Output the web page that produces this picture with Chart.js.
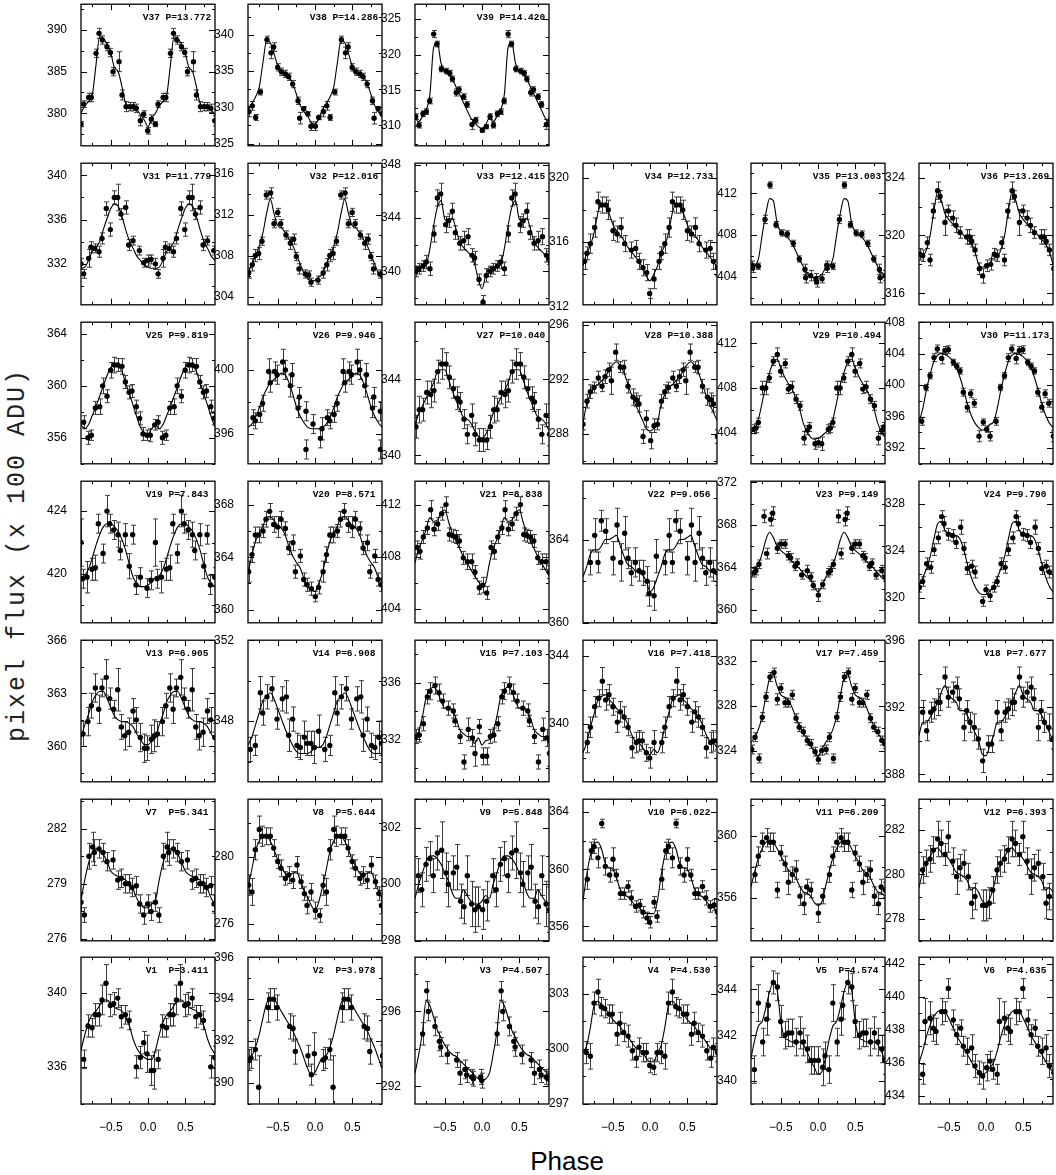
<!DOCTYPE html>
<html>
<head>
<meta charset="utf-8">
<script src="https://cdn.jsdelivr.net/npm/chart.js@4.4.1/dist/chart.umd.min.js"></script>
<style>
  body { margin: 0; background: #fff; }
  #page { position: relative; width: 1056px; height: 1175px; overflow: hidden; background: #fff; }
  #page canvas { position: absolute; }
  #ytitle { position: absolute; left: 17px; top: 555px; transform: translate(-50%, -50%) rotate(-90deg);
            font: 25px "Liberation Mono"; letter-spacing: 2px; white-space: nowrap; color: #222; }
  #xtitle { position: absolute; left: 567px; top: 1148px; transform: translateX(-50%);
            font: 26px "Liberation Sans"; line-height: 26px; color: #000; }
</style>
</head>
<body>
<div id="page">
  <div id="ytitle">pixel flux (x 100 ADU)</div>
  <div id="xtitle">Phase</div>
</div>
<script>
// one panel per variable, V1 ... V39
const names = ['V1','V2','V3','V4','V5','V6','V7','V8','V9','V10','V11','V12','V13','V14','V15','V16','V17','V18','V19','V20',
  'V21','V22','V23','V24','V25','V26','V27','V28','V29','V30','V31','V32','V33','V34','V35','V36','V37','V38','V39'];
const periods = ['3.411','3.978','4.507','4.530','4.574','4.635','5.341','5.644','5.848','6.022','6.209','6.393','6.905','6.908',
  '7.103','7.418','7.459','7.677','7.843','8.571','8.838','9.056','9.149','9.790','9.819','9.946','10.040','10.388','10.494',
  '11.173','11.779','12.016','12.415','12.733','13.003','13.269','13.772','14.286','14.420'];

// y axis limits and label step
const yMin = [334.0,389.0,291.05,297.0,339.0,433.5,275.9,275.0,298.0,355.0,353.2,277.0,358.0,345.0,329.0,336.6,321.2,387.55,416.9,359.0,
  402.9,360.0,358.8,317.9,354.0,394.1,339.55,285.8,401.2,390.0,328.3,303.2,337.5,312.1,401.3,315.2,376.1,324.7,307.2];
const yMax = [341.9,396.0,298.9,305.0,345.4,442.4,283.6,283.4,303.0,364.9,362.4,283.4,366.0,352.0,339.0,344.9,333.9,396.0,425.9,369.8,
  413.8,366.8,372.1,329.9,364.9,403.0,347.0,296.2,413.9,408.0,341.1,317.0,348.1,320.9,414.9,325.0,393.1,344.2,327.1];
const yStep = [4,2,4,3,2,2,3,4,2,4,4,2,3,4,4,4,4,4,4,4,4,4,4,4,4,4,4,4,4,4,4,4,4,4,4,4,5,5,5];

// phase ticks
const xLabels = [-0.5, 0, 0.5];
const xMinor = [-0.75, -0.25, 0.25, 0.75];

// fitted curve, sampled over one cycle
const curvePhase = [-0.9,-0.85,-0.8,-0.75,-0.7,-0.65,-0.6,-0.55,-0.5,-0.45,-0.4,-0.35,-0.3,-0.25,-0.2,-0.15,-0.1,-0.05,0.0,0.05];
const curves = [
  [336.9,337.7,338.4,338.8,339.0,339.3,339.6,339.6,339.4,339.2,339.1,339.0,338.7,338.2,337.5,337.0,336.7,336.5,336.4,336.4],
  [391.2,391.3,391.7,392.3,393.1,393.8,394.0,394.0,393.7,393.4,393.1,392.8,392.5,392.1,391.7,391.2,390.7,390.4,390.5,390.9],
  [292.7,293.7,294.9,296.6,296.3,295.7,295.0,294.6,294.2,293.9,293.7,293.6,293.4,293.2,293.0,292.8,292.6,292.4,292.3,292.4],
  [299.8,300.2,301.2,302.4,302.6,302.4,302.2,301.9,301.6,301.4,301.2,300.9,300.7,300.4,300.1,300.0,299.8,299.5,299.3,299.3],
  [341.0,341.8,342.4,342.6,343.2,343.9,344.3,344.0,342.6,341.9,341.8,341.7,341.7,341.7,341.6,341.3,340.9,340.6,340.3,340.4],
  [436.0,436.7,437.6,438.3,438.8,439.1,439.2,439.1,438.7,438.2,437.7,437.3,436.9,436.5,436.1,435.7,435.5,435.3,435.4,435.7],
  [278.1,279.2,280.1,280.7,280.9,280.8,280.6,280.2,279.7,279.5,279.4,279.3,279.2,279.0,278.7,278.2,277.9,277.7,277.7,277.9],
  [278.2,279.2,280.3,280.9,281.2,281.2,280.9,280.4,279.8,279.4,279.0,278.9,279.0,279.1,278.6,278.0,277.6,277.1,276.8,277.3],
  [299.5,300.0,300.4,300.8,301.0,301.0,300.9,300.7,300.4,300.1,299.7,299.5,299.5,299.8,299.6,299.4,299.3,299.3,299.4,299.6],
  [357.8,359.6,361.0,361.8,361.9,361.4,360.4,360.1,360.0,359.4,358.6,358.2,358.1,357.8,357.5,357.3,357.1,356.9,356.9,356.9],
  [356.7,357.7,358.6,359.2,359.6,359.7,359.6,359.2,358.7,358.3,357.8,357.6,357.3,356.8,356.4,356.3,356.1,355.7,355.5,355.7],
  [279.4,280.1,280.5,280.8,281.1,281.2,281.0,280.9,280.7,280.4,280.1,280.0,279.9,279.7,279.3,279.4,279.2,278.8,278.7,278.9],
  [360.5,361.2,361.8,362.5,362.9,363.1,363.1,362.7,362.2,361.7,361.5,361.4,361.4,361.3,361.1,360.7,360.4,360.1,360.1,360.3],
  [346.8,347.2,347.8,348.4,349.0,349.2,349.4,349.1,348.6,348.1,347.6,347.2,346.8,346.5,346.4,346.4,346.4,346.5,346.7,346.7],
  [332.0,332.6,333.6,335.0,335.5,335.7,335.4,334.7,334.2,334.2,334.1,333.5,332.7,332.4,332.2,332.2,331.7,332.1,331.6,331.9],
  [338.3,338.9,339.8,340.6,341.4,341.6,341.7,341.4,341.2,340.9,340.7,340.4,340.0,339.4,339.0,338.9,338.6,338.3,338.2,338.5],
  [324.7,325.2,325.9,327.1,328.9,330.5,330.8,329.8,329.0,328.8,328.5,327.9,327.0,326.2,325.6,325.1,324.5,323.9,323.5,324.1],
  [390.3,391.1,391.1,391.4,391.8,392.3,392.9,393.3,392.7,392.5,392.3,391.8,391.8,391.5,391.0,390.5,390.0,389.2,389.1,389.7],
  [419.8,419.9,420.3,421.0,421.8,422.5,423.0,423.2,423.2,423.0,422.7,422.2,421.5,420.6,419.8,419.4,419.2,419.2,419.3,419.5],
  [362.8,364.1,365.2,365.8,366.4,367.0,367.1,366.8,366.4,366.2,365.7,364.8,364.1,363.6,363.2,362.4,361.8,361.5,361.4,362.0],
  [407.5,408.6,409.3,410.1,411.0,410.7,410.8,411.3,411.6,410.7,409.8,409.2,408.6,408.0,407.5,407.0,406.5,406.1,405.7,406.0],
  [362.2,362.7,363.3,363.5,363.5,363.7,364.0,364.0,364.1,364.2,363.7,363.2,362.8,362.7,362.5,362.4,362.3,362.0,361.5,361.7],
  [363.0,363.6,364.3,365.3,366.6,367.3,366.8,366.0,365.6,365.3,365.0,364.6,364.2,363.9,363.5,363.1,362.8,362.2,361.7,362.2],
  [321.0,321.7,322.5,323.5,325.0,326.3,326.5,325.7,325.4,325.3,325.3,325.0,324.1,322.9,321.8,321.0,320.5,320.3,320.3,320.6],
  [357.0,356.7,357.0,357.7,358.4,359.2,360.0,360.8,361.4,361.6,361.5,361.1,360.2,359.4,358.5,357.6,356.8,356.4,356.3,356.7],
  [396.4,396.6,397.0,397.6,398.3,398.8,399.2,399.4,399.6,399.8,399.7,399.2,398.5,397.7,397.1,396.7,396.4,396.3,396.3,396.3],
  [341.6,342.2,342.6,343.0,343.4,343.8,344.4,344.5,344.5,344.0,343.4,342.9,342.4,342.0,341.9,341.7,341.3,341.0,340.9,341.1],
  [288.8,290.2,290.9,291.4,291.6,291.9,292.2,292.7,293.1,293.3,293.0,292.5,291.7,290.9,290.2,289.6,289.0,288.4,288.2,288.4],
  [404.0,404.3,405.2,406.7,408.3,409.4,410.3,410.6,409.8,409.0,408.4,407.9,407.1,406.2,404.9,404.1,403.6,403.4,403.5,403.7],
  [395.3,397.0,399.4,401.4,403.0,403.8,404.0,403.9,403.6,403.1,402.3,401.0,399.4,397.6,396.2,395.2,394.6,394.3,394.4,395.0],
  [331.6,331.7,332.3,333.1,333.5,334.0,335.1,336.1,337.0,337.4,337.2,336.3,335.1,334.1,333.4,332.7,332.3,331.9,331.7,331.6],
  [306.2,307.2,307.9,308.9,310.2,312.1,313.5,312.1,310.9,310.7,310.2,309.6,309.0,308.1,307.2,306.3,305.8,305.5,305.6,305.9],
  [340.3,340.3,340.3,340.5,341.7,343.4,344.8,345.3,343.9,343.7,344.0,343.2,342.2,341.8,341.5,341.2,340.6,339.4,338.7,339.7],
  [314.5,315.3,315.8,316.6,317.8,318.4,318.4,317.8,317.1,316.7,316.4,316.1,315.7,315.4,315.1,314.8,314.4,313.9,313.6,314.0],
  [404.8,405.0,405.7,408.0,410.1,411.5,411.3,409.2,408.3,408.0,407.7,407.2,406.5,405.7,405.0,404.4,404.1,403.9,404.0,404.2],
  [318.8,318.6,319.0,320.0,321.7,323.0,322.4,321.5,321.1,320.8,320.5,320.3,320.0,319.7,319.4,318.9,318.0,317.8,317.9,318.0],
  [380.0,380.9,381.4,382.1,385.7,389.2,389.0,388.3,387.2,385.5,385.0,383.2,381.2,380.8,380.6,380.4,379.8,379.2,378.4,379.4],
  [329.7,330.5,331.4,332.7,336.1,339.2,338.9,337.4,335.7,335.0,334.6,334.2,333.3,331.8,330.3,329.4,328.8,327.9,327.7,328.4],
  [311.1,310.6,311.3,312.2,314.4,321.0,321.7,318.8,317.7,317.4,316.6,315.5,314.4,313.3,312.2,311.1,310.5,309.9,309.6,310.2]
];

// measured points over one cycle: [phase, flux, error]
const points = [
  [[-0.864,336.4,0.5],[-0.806,338.2,0.6],[-0.752,338.1,0.5],[-0.707,338.8,0.6],[-0.663,338.8,0.6],[-0.618,339.6,0.8],[-0.564,340.5,1.0],[-0.506,339.3,0.6],[-0.461,339.4,0.6],[-0.407,339.7,0.5],[-0.358,338.7,0.6],[-0.304,338.8,0.5],[-0.255,338.5,0.5],[-0.157,336.0,0.6],[-0.103,336.5,0.6],[-0.058,337.3,0.6],[-0.013,336.7,1.0],[0.045,335.8,0.8],[0.076,335.8,1.0]],
  [[-0.891,391.1,0.5],[-0.860,391.2,0.5],[-0.801,391.6,0.5],[-0.757,389.8,1.5],[-0.631,393.6,0.7],[-0.609,394.0,0.5],[-0.555,394.0,0.5],[-0.510,393.6,0.6],[-0.340,392.7,0.6],[-0.295,392.6,0.6],[-0.264,391.5,0.6],[-0.094,391.3,0.5],[-0.049,390.4,0.5],[-0.009,391.4,1.0]],
  [[-0.797,294.8,0.6],[-0.743,297.1,0.5],[-0.721,296.0,0.5],[-0.631,295.2,0.5],[-0.573,294.4,0.5],[-0.555,294.1,0.5],[-0.466,293.7,0.5],[-0.340,293.4,0.4],[-0.295,292.7,0.6],[-0.228,292.9,0.5],[-0.206,292.6,0.4],[-0.139,292.5,0.4],[-0.116,292.4,0.4],[-0.018,292.5,0.4],[-0.004,292.3,0.4]],
  [[-0.855,299.8,0.6],[-0.801,299.6,0.7],[-0.752,302.5,0.6],[-0.699,303.1,0.7],[-0.654,302.3,0.5],[-0.609,302.2,0.5],[-0.551,301.9,0.5],[-0.506,301.9,0.5],[-0.443,300.8,0.6],[-0.407,301.4,0.6],[-0.354,300.9,0.5],[-0.295,300.7,0.6],[-0.237,299.9,0.5],[-0.184,299.5,0.5],[-0.148,300.1,0.5],[-0.094,299.8,0.5],[-0.049,299.8,0.5],[-0.004,299.1,0.4],[0.049,299.0,0.4],[0.094,299.8,0.5]],
  [[-0.855,340.5,0.6],[-0.801,343.4,0.8],[-0.743,341.7,0.6],[-0.690,342.7,0.7],[-0.667,343.3,0.6],[-0.600,344.3,0.5],[-0.546,344.1,0.6],[-0.501,342.6,0.7],[-0.443,342.0,0.6],[-0.398,342.1,0.6],[-0.354,342.1,0.6],[-0.295,341.7,0.6],[-0.242,342.1,0.7],[-0.197,341.7,0.6],[-0.143,341.4,0.6],[-0.098,340.9,0.6],[-0.054,340.9,0.6],[0.005,340.9,0.6],[0.063,340.6,0.8],[0.094,341.1,0.6]],
  [[-0.851,435.3,0.6],[-0.819,438.5,1.4],[-0.752,438.7,1.0],[-0.707,438.1,0.8],[-0.672,437.9,0.8],[-0.595,439.1,0.8],[-0.551,439.1,0.6],[-0.506,440.5,0.6],[-0.439,438.6,0.6],[-0.394,437.7,0.6],[-0.340,438.1,0.5],[-0.304,437.0,0.6],[-0.251,436.7,0.8],[-0.193,436.9,0.8],[-0.148,435.8,0.7],[-0.089,435.4,0.7],[-0.045,435.2,0.8],[0.009,435.7,0.8],[0.054,436.1,0.6],[0.090,435.6,0.6]],
  [[-0.900,278.0,0.5],[-0.855,277.3,0.4],[-0.793,280.5,0.7],[-0.743,281.0,0.8],[-0.721,280.7,0.7],[-0.658,280.9,0.5],[-0.604,280.7,0.5],[-0.551,280.2,0.5],[-0.470,280.3,0.5],[-0.407,279.2,0.5],[-0.358,279.3,0.5],[-0.304,279.0,0.5],[-0.260,279.0,0.5],[-0.215,278.8,0.5],[-0.157,278.9,0.5],[-0.112,277.9,0.5],[-0.058,277.3,0.5],[-0.004,277.9,0.5],[0.040,277.5,0.5]],
  [[-0.891,278.3,0.6],[-0.846,277.9,0.8],[-0.801,280.4,0.6],[-0.748,281.6,0.8],[-0.712,281.2,0.6],[-0.654,281.2,0.5],[-0.600,281.2,0.5],[-0.555,280.5,0.5],[-0.501,279.7,0.4],[-0.457,279.3,0.5],[-0.398,278.7,0.4],[-0.354,278.9,0.5],[-0.300,278.6,0.5],[-0.242,279.5,0.5],[-0.188,278.5,0.4],[-0.143,277.8,0.4],[-0.107,277.1,0.5],[-0.054,277.9,0.5],[0.005,276.8,0.5],[0.063,276.5,0.4]],
  [[-0.855,300.3,0.6],[-0.810,299.8,0.6],[-0.752,300.7,0.6],[-0.699,300.9,0.6],[-0.654,300.3,0.6],[-0.600,301.1,0.6],[-0.542,301.2,1.0],[-0.484,300.4,0.7],[-0.452,300.0,0.8],[-0.385,300.4,0.6],[-0.340,300.6,0.8],[-0.287,299.4,0.6],[-0.242,299.2,0.6],[-0.197,300.3,0.7],[-0.139,299.3,0.8],[-0.094,299.1,0.8],[-0.049,299.2,0.7],[0.009,299.1,0.7],[0.063,299.4,0.7]],
  [[-0.842,359.3,0.7],[-0.788,361.3,0.6],[-0.752,361.6,0.5],[-0.699,360.8,0.7],[-0.649,363.2,0.3],[-0.600,360.2,0.6],[-0.542,359.6,0.5],[-0.497,360.7,0.8],[-0.452,359.6,0.4],[-0.398,358.3,0.4],[-0.354,358.3,0.4],[-0.295,358.8,0.4],[-0.251,358.0,0.5],[-0.192,357.4,0.4],[-0.139,357.5,0.4],[-0.094,357.0,0.4],[-0.040,356.6,0.4],[-0.004,356.3,0.4],[0.054,357.7,0.4],[0.094,356.7,0.4]],
  [[-0.846,357.5,0.5],[-0.801,358.7,0.6],[-0.748,359.6,0.6],[-0.690,359.9,0.6],[-0.645,359.6,0.6],[-0.600,359.6,0.6],[-0.546,356.5,0.5],[-0.501,358.9,0.5],[-0.443,358.2,0.5],[-0.398,357.0,0.8],[-0.345,357.5,0.5],[-0.295,357.8,0.6],[-0.242,356.1,0.6],[-0.188,355.6,0.7],[-0.152,356.7,0.5],[-0.098,356.5,0.5],[0.005,355.0,0.6],[0.063,356.1,0.5]],
  [[-0.851,280.2,0.6],[-0.806,280.5,0.6],[-0.752,280.7,0.6],[-0.707,281.1,0.6],[-0.649,281.6,0.8],[-0.604,281.4,0.6],[-0.551,280.9,0.5],[-0.506,281.7,0.7],[-0.448,280.6,0.6],[-0.394,279.9,0.8],[-0.349,280.3,0.6],[-0.296,280.5,0.6],[-0.237,279.9,0.6],[-0.193,278.7,0.7],[-0.148,279.0,0.6],[-0.045,278.6,0.7],[0.000,278.6,0.7],[0.045,278.7,0.7],[0.090,279.3,0.6]],
  [[-0.873,360.7,0.7],[-0.806,361.4,0.8],[-0.761,362.3,0.7],[-0.707,363.3,0.8],[-0.663,362.1,0.8],[-0.618,363.3,0.5],[-0.560,363.9,1.0],[-0.515,362.7,0.6],[-0.461,362.1,0.5],[-0.407,363.2,1.2],[-0.358,361.1,0.7],[-0.313,360.6,0.8],[-0.260,360.8,0.8],[-0.201,362.0,0.7],[-0.157,361.5,0.7],[-0.103,360.5,0.8],[-0.049,359.9,0.8],[-0.013,359.9,0.7],[0.045,360.4,0.8],[0.085,360.6,0.9]],
  [[-0.869,346.6,0.6],[-0.801,346.8,0.5],[-0.734,349.4,0.8],[-0.703,348.4,0.6],[-0.645,349.2,0.6],[-0.578,349.6,0.6],[-0.510,348.1,0.5],[-0.439,349.1,0.6],[-0.385,349.2,0.8],[-0.354,347.3,0.8],[-0.300,348.1,0.6],[-0.242,346.8,0.6],[-0.197,346.7,0.6],[-0.143,347.2,0.8],[-0.107,346.9,0.6],[-0.054,346.9,0.6],[-0.009,346.7,0.8],[0.049,347.5,0.8]],
  [[-0.887,332.2,0.5],[-0.842,332.3,0.5],[-0.788,333.1,0.5],[-0.734,335.0,0.5],[-0.699,335.4,0.6],[-0.631,335.8,0.6],[-0.578,335.3,0.6],[-0.528,334.7,0.5],[-0.452,334.2,0.5],[-0.385,334.0,0.5],[-0.363,333.3,0.4],[-0.295,332.2,0.5],[-0.242,330.4,0.5],[-0.184,332.7,0.8],[-0.130,332.1,0.6],[-0.094,331.0,0.9],[-0.036,332.9,0.5],[0.009,330.8,0.6],[0.063,330.8,0.6]],
  [[-0.842,338.9,0.6],[-0.801,339.8,0.6],[-0.743,341.0,0.6],[-0.690,341.5,0.5],[-0.640,342.5,0.8],[-0.595,341.4,0.6],[-0.551,341.7,0.6],[-0.497,341.0,0.5],[-0.439,340.1,0.6],[-0.398,340.7,0.6],[-0.349,340.4,0.6],[-0.295,339.8,0.5],[-0.242,338.6,0.6],[-0.184,338.9,0.6],[-0.148,339.0,0.6],[-0.103,339.0,0.5],[-0.049,338.3,0.5],[-0.004,338.0,0.6],[0.054,338.9,0.7]],
  [[-0.891,324.1,0.4],[-0.846,325.2,0.4],[-0.793,323.3,0.4],[-0.748,327.0,0.4],[-0.699,328.8,0.4],[-0.645,330.6,0.4],[-0.591,331.0,0.4],[-0.546,328.6,0.5],[-0.501,329.6,0.4],[-0.443,328.3,0.4],[-0.398,328.3,0.4],[-0.345,329.0,0.4],[-0.295,326.9,0.4],[-0.251,326.1,0.4],[-0.197,325.7,0.4],[-0.143,324.9,0.4],[-0.098,324.6,0.4],[-0.040,323.9,0.4],[0.005,323.2,0.4],[0.049,324.0,0.4]],
  [[-0.851,391.7,0.7],[-0.797,390.6,0.6],[-0.743,391.7,0.6],[-0.699,391.9,0.6],[-0.649,392.3,0.8],[-0.618,392.3,0.5],[-0.551,393.8,0.6],[-0.506,392.6,0.6],[-0.448,392.9,0.6],[-0.394,393.2,0.6],[-0.358,392.5,0.6],[-0.296,390.8,0.8],[-0.260,391.8,0.6],[-0.215,391.1,0.6],[-0.157,390.8,0.8],[-0.103,390.1,0.6],[-0.045,388.8,0.7],[0.031,389.8,0.5],[0.076,389.8,0.5]],
  [[-0.900,422.0,1.5],[-0.878,419.7,0.6],[-0.819,419.8,1.0],[-0.752,420.3,0.7],[-0.707,420.4,0.8],[-0.667,423.2,0.6],[-0.604,421.3,0.6],[-0.551,424.0,1.0],[-0.515,423.2,0.6],[-0.461,422.8,0.6],[-0.403,422.5,0.8],[-0.372,421.5,0.6],[-0.304,422.5,0.7],[-0.251,420.5,0.8],[-0.206,422.5,0.6],[-0.161,419.3,0.6],[-0.103,419.8,0.6],[-0.013,419.1,0.6],[0.040,419.6,0.6]],
  [[-0.891,362.9,0.8],[-0.846,364.2,0.6],[-0.801,365.7,0.6],[-0.757,365.7,0.6],[-0.698,366.0,0.5],[-0.658,366.9,0.6],[-0.609,367.5,0.6],[-0.555,366.5,0.6],[-0.501,366.3,0.8],[-0.457,366.9,0.6],[-0.398,366.2,0.5],[-0.354,364.7,0.5],[-0.296,365.1,0.6],[-0.264,362.9,0.5],[-0.197,364.1,0.5],[-0.152,362.3,0.5],[-0.107,361.9,0.5],[-0.049,361.6,0.5],[0.005,361.0,0.4],[0.049,361.7,0.5]],
  [[-0.878,408.7,0.5],[-0.833,408.4,0.6],[-0.788,409.5,0.5],[-0.734,410.2,0.5],[-0.690,411.6,0.7],[-0.645,410.1,0.5],[-0.595,410.5,0.5],[-0.542,411.3,0.5],[-0.484,412.0,0.6],[-0.439,409.7,0.5],[-0.394,409.6,0.5],[-0.349,409.5,0.5],[-0.304,409.2,0.5],[-0.251,407.9,0.5],[-0.197,407.6,0.6],[-0.139,407.6,0.6],[-0.094,406.8,0.5],[-0.036,405.6,0.5],[0.009,405.8,0.6],[0.063,405.2,0.5]],
  [[-0.801,362.9,0.6],[-0.743,364.2,0.8],[-0.699,362.9,0.5],[-0.654,364.9,0.5],[-0.595,364.4,0.6],[-0.497,363.1,0.8],[-0.443,364.7,0.8],[-0.394,362.9,0.9],[-0.340,364.3,0.8],[-0.295,363.1,0.5],[-0.251,362.4,0.6],[-0.197,362.9,0.7],[-0.148,362.5,0.5],[-0.094,362.4,0.6],[-0.040,362.0,0.7],[-0.013,361.4,0.6],[0.054,361.3,0.7],[0.085,363.2,0.8]],
  [[-0.860,363.5,0.4],[-0.833,363.7,0.4],[-0.793,364.3,0.4],[-0.725,368.8,0.6],[-0.690,365.3,0.5],[-0.636,368.5,0.6],[-0.609,369.1,0.6],[-0.546,365.8,0.5],[-0.501,366.2,0.4],[-0.443,366.2,0.4],[-0.398,365.1,0.4],[-0.367,364.9,0.4],[-0.309,364.1,0.4],[-0.278,364.4,0.4],[-0.219,363.3,0.4],[-0.143,363.7,0.5],[-0.098,363.1,0.4],[-0.063,362.3,0.4],[0.005,361.4,0.6],[0.063,362.4,0.4]],
  [[-0.896,320.9,0.4],[-0.851,321.4,0.4],[-0.797,322.9,0.5],[-0.743,322.6,0.5],[-0.699,324.1,0.5],[-0.640,325.1,0.5],[-0.595,326.9,0.5],[-0.564,326.3,0.6],[-0.506,325.4,0.5],[-0.448,325.3,0.5],[-0.403,324.7,0.5],[-0.340,326.0,0.6],[-0.296,324.2,0.5],[-0.251,322.5,0.5],[-0.193,322.7,0.5],[-0.148,322.2,0.5],[-0.045,319.7,0.4],[0.000,320.7,0.4],[0.054,320.2,0.5]],
  [[-0.864,357.2,0.5],[-0.806,356.0,0.5],[-0.761,356.2,0.4],[-0.707,358.3,0.5],[-0.649,358.4,0.6],[-0.609,360.0,0.6],[-0.551,359.2,0.5],[-0.501,361.2,0.6],[-0.452,361.6,0.6],[-0.407,361.6,0.5],[-0.349,361.5,0.6],[-0.304,360.3,0.5],[-0.255,359.5,0.5],[-0.215,359.6,0.5],[-0.157,358.4,0.5],[-0.112,357.5,0.5],[-0.067,356.3,0.5],[-0.013,356.2,0.4],[0.031,356.2,0.5],[0.090,357.0,0.4]],
  [[-0.833,397.0,0.5],[-0.801,396.8,0.5],[-0.743,397.2,0.5],[-0.703,397.9,0.5],[-0.622,399.9,0.8],[-0.600,399.2,0.6],[-0.542,399.9,0.6],[-0.510,399.7,0.6],[-0.434,400.5,0.8],[-0.398,400.0,0.6],[-0.331,399.0,0.7],[-0.309,399.7,0.7],[-0.228,397.6,0.6],[-0.210,398.3,0.6],[-0.121,397.4,0.6],[-0.121,395.0,0.6],[-0.027,396.6,0.6],[0.072,395.7,0.6],[0.094,396.3,0.7]],
  [[-0.887,341.5,0.6],[-0.842,342.4,0.7],[-0.797,342.4,0.6],[-0.743,343.3,0.6],[-0.690,343.2,0.7],[-0.645,343.4,0.6],[-0.595,344.4,0.6],[-0.542,344.8,0.8],[-0.484,344.8,0.6],[-0.439,344.1,0.6],[-0.385,343.5,0.5],[-0.331,343.0,0.6],[-0.295,342.8,0.5],[-0.242,341.9,0.5],[-0.197,341.1,0.5],[-0.139,342.1,0.6],[-0.094,341.1,0.6],[-0.036,340.8,0.6],[0.018,340.8,0.6],[0.063,340.8,0.5]],
  [[-0.900,288.7,0.4],[-0.846,290.4,0.5],[-0.801,291.1,0.5],[-0.752,291.4,0.4],[-0.694,292.1,0.5],[-0.645,291.5,0.4],[-0.604,292.2,0.5],[-0.555,292.7,0.5],[-0.519,291.9,1.0],[-0.461,294.0,0.6],[-0.398,292.9,0.4],[-0.354,292.9,0.5],[-0.295,291.5,0.5],[-0.228,290.7,0.6],[-0.183,290.5,0.5],[-0.148,290.2,0.6],[-0.094,287.8,0.5],[-0.049,289.1,0.6],[0.009,287.5,0.6],[0.054,288.6,0.5]],
  [[-0.860,404.3,0.4],[-0.833,404.4,0.4],[-0.801,404.9,0.4],[-0.748,408.0,0.6],[-0.703,408.0,0.6],[-0.654,408.9,0.4],[-0.600,410.4,0.4],[-0.546,411.0,0.6],[-0.501,409.5,0.5],[-0.439,410.2,0.4],[-0.398,407.9,0.4],[-0.354,408.1,0.5],[-0.295,407.0,0.4],[-0.242,406.4,0.4],[-0.188,403.5,0.6],[-0.143,404.2,0.4],[-0.116,404.5,0.4],[-0.040,403.0,0.5],[0.005,403.1,0.4],[0.049,403.0,0.6]],
  [[-0.864,395.4,0.5],[-0.806,399.7,0.4],[-0.752,401.2,0.4],[-0.699,403.5,0.5],[-0.654,404.6,0.5],[-0.595,403.4,0.7],[-0.551,404.4,0.5],[-0.506,404.5,0.5],[-0.439,402.9,0.4],[-0.394,402.4,0.4],[-0.349,401.8,0.4],[-0.304,399.1,0.5],[-0.251,397.2,0.6],[-0.206,398.9,0.5],[-0.157,397.7,0.5],[-0.094,393.5,0.7],[-0.036,395.3,0.4],[0.009,394.4,0.4],[0.054,393.5,0.6]],
  [[-0.900,332.0,0.5],[-0.864,331.1,0.4],[-0.797,332.5,0.8],[-0.766,333.5,0.5],[-0.716,333.4,0.4],[-0.658,333.1,0.5],[-0.618,334.3,0.5],[-0.560,337.0,0.6],[-0.506,335.1,0.6],[-0.452,338.0,0.6],[-0.407,338.0,1.2],[-0.363,336.5,0.5],[-0.300,337.1,0.6],[-0.260,333.7,0.5],[-0.201,334.1,0.4],[-0.116,333.2,0.4],[-0.058,332.1,0.4],[-0.004,332.3,0.5],[0.040,332.4,0.4]],
  [[-0.891,306.3,0.5],[-0.842,307.1,0.6],[-0.801,308.0,0.6],[-0.757,308.2,0.6],[-0.712,309.4,0.4],[-0.654,313.9,0.4],[-0.596,314.1,0.5],[-0.551,311.1,0.4],[-0.501,312.2,0.4],[-0.461,311.1,0.4],[-0.390,310.0,0.4],[-0.331,309.2,0.6],[-0.287,309.6,0.5],[-0.251,307.9,0.4],[-0.215,306.7,0.5],[-0.130,306.2,0.4],[-0.085,306.1,0.4],[-0.054,305.4,0.4],[0.040,305.6,0.4]],
  [[-0.891,340.0,0.4],[-0.846,340.2,0.4],[-0.793,340.4,0.4],[-0.748,340.7,0.5],[-0.699,340.2,0.5],[-0.645,342.8,0.6],[-0.600,345.5,0.6],[-0.555,345.8,0.8],[-0.488,343.5,0.6],[-0.448,343.8,0.5],[-0.398,344.5,0.6],[-0.358,342.9,0.5],[-0.300,342.1,0.5],[-0.246,342.3,0.7],[-0.188,342.6,0.6],[-0.134,341.2,0.5],[-0.099,341.0,0.5],[-0.040,339.4,0.4],[0.014,337.7,0.5],[0.058,339.7,0.5]],
  [[-0.878,314.8,0.5],[-0.846,315.3,0.4],[-0.801,315.9,0.6],[-0.743,316.9,0.6],[-0.699,318.5,0.6],[-0.649,318.3,0.5],[-0.595,318.3,0.5],[-0.560,318.0,0.6],[-0.497,316.7,0.6],[-0.443,316.5,0.5],[-0.389,316.9,0.6],[-0.340,315.9,0.5],[-0.251,315.5,0.5],[-0.192,315.6,0.5],[-0.148,314.8,0.5],[-0.094,314.4,0.5],[-0.045,314.1,0.5],[-0.004,312.8,0.3],[0.054,313.7,0.6]],
  [[-0.882,405.1,0.4],[-0.878,404.8,0.4],[-0.801,405.0,0.3],[-0.712,409.5,0.4],[-0.645,412.8,0.3],[-0.564,409.0,0.3],[-0.488,408.2,0.3],[-0.412,408.1,0.3],[-0.331,407.2,0.3],[-0.251,405.7,0.3],[-0.175,404.7,0.5],[-0.166,403.9,0.5],[-0.098,404.1,0.5],[-0.027,403.8,0.5],[-0.018,403.5,0.5],[0.054,403.8,0.4]],
  [[-0.887,318.7,0.4],[-0.851,318.6,0.4],[-0.788,319.5,0.4],[-0.752,318.3,0.4],[-0.707,321.7,0.5],[-0.649,323.1,0.6],[-0.618,322.7,0.4],[-0.551,320.9,0.9],[-0.506,321.7,0.4],[-0.448,321.2,0.5],[-0.403,320.7,0.5],[-0.349,320.2,0.4],[-0.260,319.9,0.5],[-0.224,319.9,0.5],[-0.192,319.6,0.4],[-0.148,319.0,0.4],[-0.089,317.7,0.4],[-0.045,317.2,0.5],[0.009,317.9,0.4],[0.063,318.0,0.4]],
  [[-0.900,378.7,0.3],[-0.864,381.1,0.4],[-0.797,381.9,0.5],[-0.761,381.9,0.5],[-0.698,387.2,0.5],[-0.658,389.6,0.6],[-0.613,388.8,0.5],[-0.551,388.0,0.5],[-0.506,387.3,0.5],[-0.470,385.0,0.5],[-0.389,386.2,1.2],[-0.349,382.2,0.6],[-0.295,380.8,0.6],[-0.246,380.8,0.5],[-0.201,380.8,0.5],[-0.157,380.6,0.5],[-0.103,379.1,0.6],[-0.058,379.9,0.4],[-0.004,377.9,0.4],[0.045,379.3,0.5]],
  [[-0.887,329.4,0.7],[-0.842,330.2,0.6],[-0.797,328.6,0.4],[-0.734,332.1,0.4],[-0.645,339.3,0.5],[-0.591,337.5,0.8],[-0.555,338.3,0.6],[-0.501,335.5,0.5],[-0.452,334.9,0.5],[-0.398,334.6,0.5],[-0.354,334.2,0.5],[-0.300,333.2,0.5],[-0.228,330.9,0.5],[-0.206,328.5,0.8],[-0.152,329.8,0.3],[-0.098,329.1,0.3],[-0.054,327.4,0.6],[0.005,327.4,0.6],[0.049,328.6,0.3]],
  [[-0.891,311.3,0.4],[-0.846,310.1,0.4],[-0.793,311.7,0.4],[-0.748,312.0,0.4],[-0.703,313.5,0.4],[-0.649,322.9,0.5],[-0.604,321.5,0.4],[-0.546,318.0,0.4],[-0.479,317.7,0.4],[-0.434,317.4,0.4],[-0.398,316.6,0.4],[-0.345,314.7,0.5],[-0.309,315.1,0.4],[-0.246,314.1,0.4],[-0.201,313.0,0.4],[-0.134,310.2,0.7],[-0.085,310.8,0.4],[0.005,309.4,0.3],[0.058,309.9,0.3]]
];

// page layout of the panel grid
const colLeft = [81, 248, 415, 583, 751, 919];
const rowTop = [1, 160, 319, 478, 637, 796, 954];
const panelW = 134, panelH = 150;

Chart.defaults.font.family = '"Liberation Sans", Arial, sans-serif';
Chart.defaults.font.size = 12;
Chart.defaults.color = '#000';

// vertical error bars under the dots
const errorBars = {
  id: 'errorBars',
  beforeDatasetsDraw(chart) {
    const {ctx, chartArea: a, scales: {x, y}} = chart;
    ctx.save();
    ctx.beginPath();
    ctx.rect(a.left, a.top, a.width, a.height);
    ctx.clip();
    ctx.strokeStyle = '#3a3a3a';
    ctx.lineWidth = 1;
    ctx.beginPath();
    chart.data.datasets[0].data.forEach(d => {
      const px = Math.round(x.getPixelForValue(d.x)) + 0.5;
      const lo = y.getPixelForValue(d.y - d.e), hi = y.getPixelForValue(d.y + d.e);
      ctx.moveTo(px, lo); ctx.lineTo(px, hi);
      ctx.moveTo(px - 2.5, lo); ctx.lineTo(px + 2.5, lo);
      ctx.moveTo(px - 2.5, hi); ctx.lineTo(px + 2.5, hi);
    });
    ctx.stroke();
    ctx.restore();
  }
};

// box with inward ticks on all four sides, plus the panel label
const frame = {
  id: 'frame',
  afterDraw(chart) {
    const {ctx, chartArea: a, scales: {x, y}} = chart;
    const opt = chart.options.plugins.frame;
    ctx.save();
    ctx.strokeStyle = '#000';
    ctx.lineWidth = 1;
    ctx.beginPath();
    const xt = xLabels.map(v => [v, 6]).concat(xMinor.map(v => [v, 3]));
    xt.forEach(([v, len]) => {
      const px = Math.round(x.getPixelForValue(v)) + 0.5;
      ctx.moveTo(px, a.bottom); ctx.lineTo(px, a.bottom - len);
      ctx.moveTo(px, a.top); ctx.lineTo(px, a.top + len);
    });
    const minor = opt.step / 2;
    for (let v = Math.ceil(y.min / minor) * minor; v <= y.max; v += minor) {
      const major = Math.abs(v / opt.step - Math.round(v / opt.step)) < 1e-6;
      const len = major ? 6 : 3;
      const py = Math.round(y.getPixelForValue(v)) + 0.5;
      ctx.moveTo(a.left, py); ctx.lineTo(a.left + len, py);
      ctx.moveTo(a.right, py); ctx.lineTo(a.right - len, py);
    }
    ctx.stroke();
    ctx.lineWidth = 1.3;
    ctx.strokeRect(a.left, a.top, a.width, a.height);
    ctx.fillStyle = '#000';
    ctx.font = 'bold 9.5px "Liberation Mono"';
    ctx.textAlign = 'center';
    ctx.fillText(opt.title, a.left + 96, a.top + 15.5);
    ctx.restore();
  }
};

const page = document.getElementById('page');

names.forEach((name, i) => {
  const row = 6 - Math.floor(i / 6), col = i % 6;
  const bottom = row === 6;
  const cv = document.createElement('canvas');
  cv.width = panelW + 50;
  cv.height = panelH + 10 + (bottom ? 30 : 8);
  cv.style.left = (colLeft[col] - 44) + 'px';
  cv.style.top = (rowTop[row] - 10) + 'px';
  page.appendChild(cv);

  // folded data are shown over two cycles
  const pts = [];
  points[i].forEach(([p, v, e]) => {
    pts.push({x: p, y: v, e: e});
    if (p + 1 <= 0.92) pts.push({x: p + 1, y: v, e: e});
  });
  const fit = [];
  [0, 1].forEach(k => curvePhase.forEach((p, j) => {
    if (p + k <= 0.9001) fit.push({x: p + k, y: curves[i][j]});
  }));

  const step = yStep[i];
  new Chart(cv, {
    type: 'scatter',
    data: {
      datasets: [
        { data: pts, pointRadius: 2.7, pointBackgroundColor: '#000', pointBorderWidth: 0, showLine: false, order: 0 },
        { data: fit, showLine: true, pointRadius: 0, borderColor: '#000', borderWidth: 1.1,
          cubicInterpolationMode: 'monotone', order: 1 }
      ]
    },
    options: {
      responsive: false,
      animation: false,
      devicePixelRatio: 1,
      events: [],
      layout: { padding: { top: 10, right: 6, left: 0, bottom: 0 } },
      plugins: {
        legend: { display: false },
        tooltip: { enabled: false },
        frame: { title: name.padEnd(3, ' ') + ' P=' + periods[i], step: step }
      },
      scales: {
        x: {
          type: 'linear', min: -0.9, max: 0.9,
          grid: { display: false }, border: { display: false },
          ticks: { display: bottom, padding: 8, maxRotation: 0, autoSkip: false,
            callback: v => v === 0 ? '0.0' : (v < 0 ? '\u2212' : '') + Math.abs(v).toFixed(1) },
          afterBuildTicks: s => { s.ticks = xLabels.map(v => ({value: v})); },
          afterFit: s => { s.height = bottom ? 30 : 8; }
        },
        y: {
          type: 'linear', min: yMin[i], max: yMax[i],
          grid: { display: false }, border: { display: false },
          ticks: { padding: 6, autoSkip: false },
          afterBuildTicks: s => {
            const tol = (s.max - s.min) * 0.02, t = [];
            for (let v = Math.ceil((s.min - tol) / step) * step; v <= s.max + tol; v += step) t.push({value: v});
            s.ticks = t;
          },
          afterFit: s => { s.width = 44; }
        }
      }
    },
    plugins: [errorBars, frame]
  });
});
</script>
</body>
</html>
